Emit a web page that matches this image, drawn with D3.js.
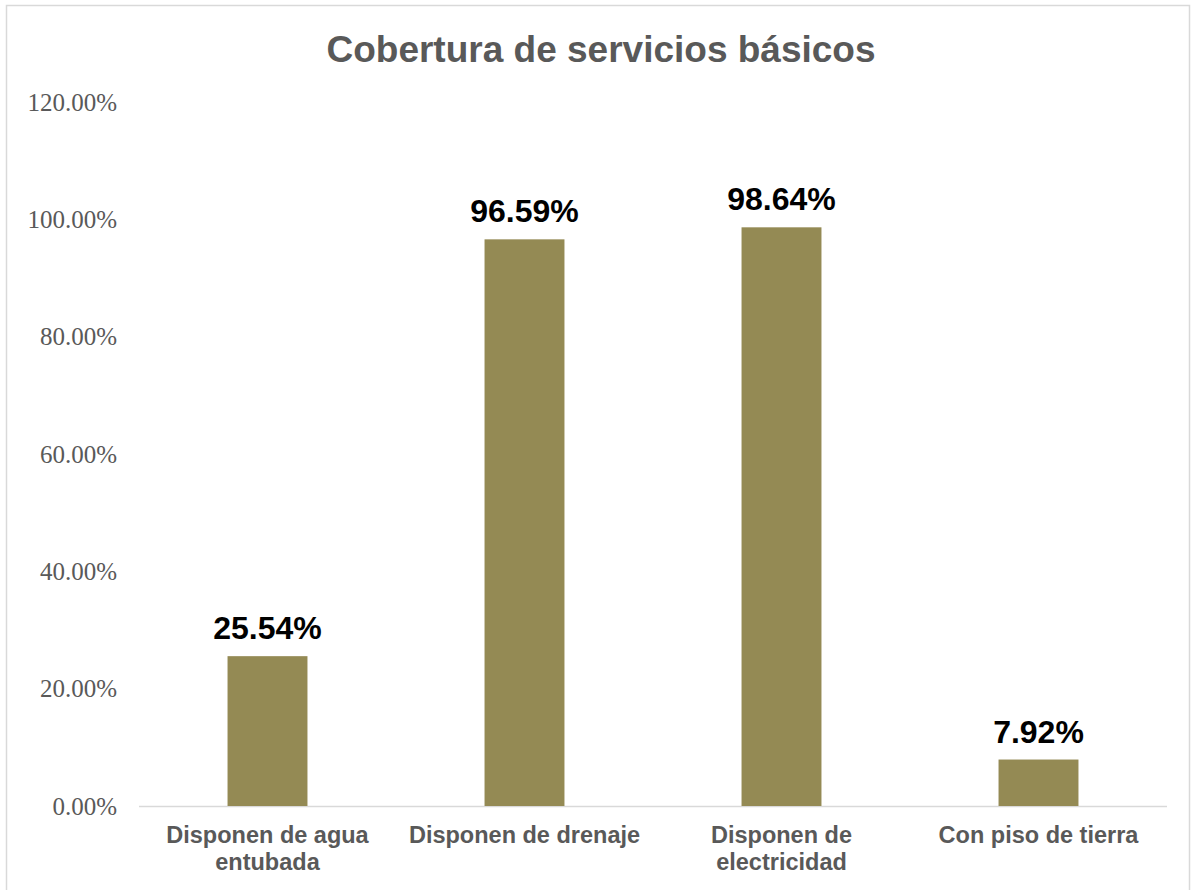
<!DOCTYPE html>
<html><head><meta charset="utf-8">
<script src="https://cdn.jsdelivr.net/npm/d3@7"></script>
<style>body{margin:0;background:#fff}</style>
</head><body>
<svg id="c" width="1196" height="890"></svg>
<script>
const categories = [["Disponen de agua","entubada"],["Disponen de drenaje"],["Disponen de","electricidad"],["Con piso de tierra"]];
const values = [25.54, 96.59, 98.64, 7.92];
const valueLabels = ["25.54%","96.59%","98.64%","7.92%"];
const yTicks = [0,20,40,60,80,100,120];
const title = "Cobertura de servicios básicos";

const svg = d3.select("#c");
svg.append("rect").attr("x",6.5).attr("y",5.5).attr("width",1183).attr("height",900)
  .attr("fill","#fff").attr("stroke","#d9d9d9").attr("stroke-width",1.5);

const x = d3.scaleBand().domain(d3.range(categories.length)).range([139,1167]).paddingInner(0.689).paddingOuter(0.3445);
const y = d3.scaleLinear().domain([0,120]).range([806,102]);

svg.append("text").attr("x",601).attr("y",62).attr("text-anchor","middle")
  .attr("font-family","Liberation Sans, Arial, sans-serif").attr("font-weight","bold")
  .attr("font-size",37).attr("fill","#595959").text(title);

const yAxis = svg.append("g").attr("transform","translate(139,0)")
  .call(d3.axisLeft(y).tickValues(yTicks).tickSize(0).tickPadding(22).tickFormat(d=>d.toFixed(2)+"%"));
yAxis.select(".domain").remove();
yAxis.selectAll("text").attr("font-family","Liberation Serif, Times New Roman, serif")
  .attr("font-size",25).attr("fill","#595959");

svg.append("line").attr("x1",139).attr("x2",1167).attr("y1",y(0)+0.5).attr("y2",y(0)+0.5)
  .attr("stroke","#d9d9d9").attr("stroke-width",1.5);

svg.selectAll("rect.bar").data(values).enter().append("rect").attr("class","bar")
  .attr("x",(d,i)=>x(i)).attr("width",x.bandwidth())
  .attr("y",d=>y(d)).attr("height",d=>y(0)-y(d)).attr("fill","#948A54");

svg.selectAll("text.vl").data(values).enter().append("text").attr("class","vl")
  .attr("x",(d,i)=>x(i)+x.bandwidth()/2).attr("y",d=>y(d)-17).attr("text-anchor","middle")
  .attr("font-family","Liberation Sans, Arial, sans-serif").attr("font-weight","bold")
  .attr("font-size",32).attr("fill","#000").text((d,i)=>valueLabels[i]);

const xl = svg.selectAll("text.xl").data(categories).enter().append("text").attr("class","xl")
  .attr("x",(d,i)=>x(i)+x.bandwidth()/2).attr("y",843).attr("text-anchor","middle")
  .attr("font-family","Liberation Sans, Arial, sans-serif").attr("font-weight","bold")
  .attr("font-size",23.5).attr("fill","#595959");
xl.each(function(d){
  const t=d3.select(this);
  d.forEach((line,j)=>t.append("tspan").attr("x",t.attr("x")).attr("dy",j?27:0).text(line));
});
</script>
</body></html>
